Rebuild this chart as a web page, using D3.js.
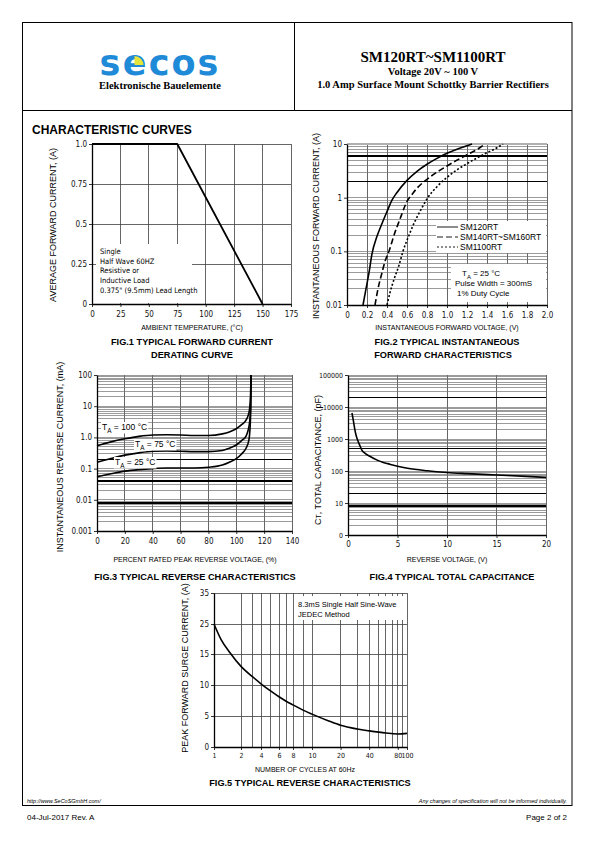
<!DOCTYPE html>
<html><head><meta charset="utf-8">
<script src="https://cdn.jsdelivr.net/npm/d3@7/dist/d3.min.js"></script>
<style>html,body{margin:0;padding:0;background:#fff}svg{display:block}</style>
</head><body>
<svg id="page" width="595" height="842" xmlns="http://www.w3.org/2000/svg"></svg>
<script>
// ================= DATA =================
// Fig.1 forward current derating
const fig1Temp = [0, 75, 150];
const fig1Current = [1.0, 1.0, 0];
const fig1XTicks = [0, 25, 50, 75, 100, 125, 150, 175];
const fig1XLabels = ["0", "25", "50", "75", "100", "125", "150", "175"];
const fig1YTicks = [0, 0.25, 0.5, 0.75, 1.0];
const fig1YLabels = ["0", "0.25", "0.5", "0.75", "1.0"];
const fig1Notes = ["Single", "Half Wave 60HZ", "Resistive or", "Inductive Load", "0.375\" (9.5mm) Lead Length"];

// Fig.2 instantaneous forward characteristics
const fig2XTicks = [0, 0.2, 0.4, 0.6, 0.8, 1.0, 1.2, 1.4, 1.6, 1.8, 2.0];
const fig2XLabels = ["0", "0.2", "0.4", "0.6", "0.8", "1.0", "1.2", "1.4", "1.6", "1.8", "2.0"];
const fig2YTicks = [0.01, 0.1, 1, 10];
const fig2YLabels = ["0.01", "0.1", "1", "10"];
const fig2Series = ["SM120RT", "SM140RT~SM160RT", "SM1100RT"];
const fig2V120 = [0.16, 0.19, 0.22, 0.25, 0.30, 0.35, 0.40, 0.45, 0.50, 0.60, 0.70, 0.80, 0.90, 1.00, 1.10, 1.20, 1.25];
const fig2I120 = [0.01, 0.02, 0.04, 0.09, 0.19, 0.33, 0.55, 0.9, 1.25, 2.1, 3.1, 4.2, 5.4, 6.7, 8.0, 9.3, 10];
const fig2V140 = [0.28, 0.31, 0.35, 0.38, 0.42, 0.47, 0.53, 0.60, 0.65, 0.70, 0.80, 0.90, 1.00, 1.10, 1.20, 1.30, 1.38];
const fig2I140 = [0.01, 0.02, 0.04, 0.065, 0.1, 0.2, 0.4, 0.85, 1.15, 1.5, 2.2, 3.0, 3.9, 5.0, 6.3, 7.9, 10];
const fig2V1100 = [0.40, 0.43, 0.47, 0.52, 0.56, 0.62, 0.69, 0.75, 0.80, 0.90, 1.00, 1.10, 1.20, 1.30, 1.40, 1.50, 1.56];
const fig2I1100 = [0.01, 0.017, 0.03, 0.055, 0.1, 0.2, 0.4, 0.65, 0.95, 1.6, 2.4, 3.3, 4.3, 5.5, 6.9, 8.5, 10];
const fig2Notes = ["Pulse Width = 300mS", "1% Duty Cycle"];

// Fig.3 reverse characteristics
const fig3XTicks = [0, 20, 40, 60, 80, 100, 120, 140];
const fig3XLabels = ["0", "20", "40", "60", "80", "100", "120", "140"];
const fig3YTicks = [0.001, 0.01, 0.1, 1, 10, 100];
const fig3YLabels = ["0.001", "0.01", "0.1", "1.0", "10", "100"];
const fig3Temps = ["100", "75", "25"];
const fig3P100 = [0, 10, 20, 30, 40, 50, 60, 70, 80, 90, 95, 100, 104, 107, 108.5, 109.5, 110.2, 110.6];
const fig3I100 = [0.54, 0.72, 0.9, 1.08, 1.2, 1.22, 1.2, 1.15, 1.15, 1.3, 1.5, 1.9, 2.6, 3.6, 5, 8, 20, 100];
const fig3P75 = [0, 10, 20, 30, 40, 50, 60, 70, 80, 90, 95, 100, 104, 107, 108.5, 109.7, 110.3, 110.6];
const fig3I75 = [0.16, 0.21, 0.27, 0.32, 0.36, 0.37, 0.36, 0.35, 0.35, 0.38, 0.45, 0.57, 0.8, 1.1, 1.7, 3.5, 10, 100];
const fig3P25 = [0, 10, 20, 30, 40, 50, 60, 70, 80, 90, 95, 100, 104, 107, 109, 110, 110.4, 110.6];
const fig3I25 = [0.055, 0.068, 0.083, 0.093, 0.1, 0.104, 0.104, 0.104, 0.11, 0.13, 0.16, 0.21, 0.3, 0.45, 0.8, 2.5, 10, 100];

// Fig.4 total capacitance
const fig4XTicks = [0, 5, 10, 15, 20];
const fig4XLabels = ["0", "5", "10", "15", "20"];
const fig4YTicks = [1, 10, 100, 1000, 10000, 100000];
const fig4YLabels = ["0", "10", "100", "1000", "10000", "100000"];
const fig4V = [0.4, 0.55, 0.7, 0.85, 1.0, 1.2, 1.4, 1.7, 2.2, 3, 3.5, 4, 5, 6, 8, 10, 12, 15, 18, 20];
const fig4C = [6500, 3600, 1900, 1200, 880, 620, 450, 360, 290, 215, 187, 170, 141, 122, 102, 90, 83, 75, 68, 63];

// Fig.5 peak forward surge current
const fig5XTicks = [1, 2, 4, 6, 8, 10, 20, 40, 80, 100];
const fig5XLabels = ["1", "2", "4", "6", "8", "10", "20", "40", "80", "100"];
const fig5YTicks = [0, 5, 10, 15, 25, 35];
const fig5YLabels = ["0", "5", "10", "15", "25", "35"];
const fig5Cycles = [1, 1.2, 1.5, 2, 3, 4, 5, 6, 7, 8, 9, 10, 15, 20, 30, 40, 60, 80, 100];
const fig5Surge = [25, 19.8, 15.5, 13.0, 11.3, 10.2, 9.0, 8.1, 7.35, 6.8, 5.95, 5.3, 4.2, 3.5, 2.9, 2.6, 2.25, 2.1, 2.2];
const fig5Notes = ["8.3mS Single Half Sine-Wave", "JEDEC Method"];

// ================= STYLE =================
const NARROW = "'Liberation Sans Narrow','Arial Narrow','DejaVu Sans Condensed',sans-serif";
const SANS = "'Liberation Sans',Arial,Helvetica,sans-serif";
const SERIF = "'Liberation Serif','Times New Roman',serif";
const GRID = "#707070", GRIDV = "#404040";
const STYLE = { fig2Emph: [2, 6], fig3Emph: [0.2, 0.04, 0.008], fig4Emph: [20000, 500, 20, 8] };
const YTITLE = 9, XTITLE = 7, FIGT = 9.2;

const svg = d3.select("#page");

function txt(g, x, y, s, o = {}) {
  const t = g.append("text").attr("x", x).attr("y", y).text(s)
    .attr("font-family", o.family || SANS).attr("font-size", o.size || 8)
    .attr("font-weight", o.weight || "normal").attr("text-anchor", o.anchor || "start")
    .attr("fill", o.fill || "#000");
  if (o.style) t.attr("font-style", o.style);
  if (o.rotate) t.attr("transform", `rotate(-90,${x},${y})`);
  return t;
}
function logSteps(lo, hi) {
  const out = [];
  for (let e = Math.round(Math.log10(lo)); e < Math.round(Math.log10(hi)); e++)
    for (let k = 1; k < 10; k++) out.push(+(k * Math.pow(10, e)).toPrecision(6));
  out.push(hi);
  return out;
}
function isEmph(v, list) { return list.some(e => Math.abs(v - e) / e < 1e-6); }
function hLines(g, y, values, x0, x1, color, width) {
  g.append("g").selectAll("line").data(values).join("line")
    .attr("x1", x0).attr("x2", x1).attr("y1", d => y(d)).attr("y2", d => y(d))
    .attr("stroke", color).attr("stroke-width", width).attr("shape-rendering", "crispEdges");
}
function vLines(g, x, values, y0, y1, color, width) {
  g.append("g").selectAll("line").data(values).join("line")
    .attr("x1", d => x(d)).attr("x2", d => x(d)).attr("y1", y0).attr("y2", y1)
    .attr("stroke", color).attr("stroke-width", width).attr("shape-rendering", "crispEdges");
}
function drawAxes(g, x, y, c) {
  const xl = x.range()[0], yb = y.range()[0];
  const xa = d3.axisBottom(x).tickValues(c.xTicks).tickFormat((d, i) => c.xLabels[i])
    .tickSize(3).tickSizeOuter(0).tickPadding(c.xPad || 3);
  const ya = d3.axisLeft(y).tickValues(c.yTicks).tickFormat((d, i) => c.yLabels[i])
    .tickSize(3).tickSizeOuter(0).tickPadding(2);
  const gx = g.append("g").attr("transform", `translate(0,${yb})`).call(xa);
  const gy = g.append("g").attr("transform", `translate(${xl},0)`).call(ya);
  [gx, gy].forEach(a => {
    a.select(".domain").attr("stroke", "#000").attr("stroke-width", 1.3);
    a.selectAll(".tick line").attr("stroke", "#000").attr("stroke-width", 0.8);
    a.selectAll("text").attr("font-family", NARROW).attr("font-size", 8).attr("fill", "#111");
  });
  if (c.xFont) gx.selectAll("text").attr("font-size", c.xFont);
  if (c.yFont) gy.selectAll("text").attr("font-size", c.yFont);
}
function curve(g, x, y, xs, ys, o = {}) {
  g.append("path").datum(d3.zip(xs, ys))
    .attr("d", d3.line().x(d => x(d[0])).y(d => y(d[1])).curve(o.curve || d3.curveMonotoneX))
    .attr("fill", "none").attr("stroke", "#000").attr("stroke-width", o.width || 1.6)
    .attr("stroke-dasharray", o.dash || null).attr("stroke-linejoin", "round");
}
function bgText(g, t, padX, padY) {
  const b = t.node().getBBox();
  g.insert("rect", () => t.node()).attr("x", b.x - padX).attr("y", b.y - padY)
    .attr("width", b.width + 2 * padX).attr("height", b.height + 2 * padY).attr("fill", "#fff");
}
function subText(g, x, y, pre, sub, post, size) {
  const t = g.append("text").attr("x", x).attr("y", y).attr("font-family", SANS).attr("font-size", size).attr("fill", "#000");
  t.append("tspan").text(pre);
  t.append("tspan").attr("dy", 2.5).attr("font-size", size * 0.75).text(sub);
  t.append("tspan").attr("dy", -2.5).text(post);
  return t;
}

// ================= PAGE FRAME / HEADER =================
svg.append("rect").attr("x", 22.5).attr("y", 22.5).attr("width", 549.5).attr("height", 783)
  .attr("fill", "none").attr("stroke", "#000").attr("stroke-width", 1);
svg.append("line").attr("x1", 294.5).attr("x2", 294.5).attr("y1", 22).attr("y2", 110).attr("stroke", "#000");
svg.append("line").attr("x1", 22).attr("x2", 572).attr("y1", 110.5).attr("y2", 110.5).attr("stroke", "#000");

// logo
const logoLetters = ["s", "e", "c", "o", "s"];
const lg = svg.append("g");
logoLetters.forEach((ch, i) => {
  lg.append("text").attr("x", 110 + i * 24.5).attr("y", 75).attr("text-anchor", "middle")
    .attr("font-family", "'DejaVu Sans',sans-serif").attr("font-weight", "bold").attr("font-size", 35)
    .attr("fill", "#1f8bd8").text(ch);
});
lg.append("path").attr("d", "M134.5,65 L134.5,56 A9,9 0 0 1 143.5,65 Z").attr("fill", "#e6e33a");
txt(svg, 160, 89, "Elektronische Bauelemente", { family: SERIF, weight: "bold", size: 10.5, anchor: "middle" });
txt(svg, 433, 62, "SM120RT~SM1100RT", { family: SERIF, weight: "bold", size: 15, anchor: "middle" });
txt(svg, 433, 75, "Voltage 20V ~ 100 V", { family: SERIF, weight: "bold", size: 10.5, anchor: "middle" });
txt(svg, 433, 88, "1.0 Amp Surface Mount Schottky Barrier Rectifiers", { family: SERIF, weight: "bold", size: 10.5, anchor: "middle" });

txt(svg, 32, 134, "CHARACTERISTIC CURVES", { weight: "bold", size: 12 });

// ================= FIG.1 =================
{
  const g = svg.append("g");
  const x = d3.scaleLinear().domain([0, 175]).range([92, 291]);
  const y = d3.scaleLinear().domain([0, 1]).range([304, 144]);
  vLines(g, x, fig1XTicks.slice(1), 144, 304, GRIDV, 0.8);
  hLines(g, y, fig1YTicks.slice(1), 92, 291, GRIDV, 0.8);
  g.append("rect").attr("x", 96).attr("y", 244).attr("width", 96).attr("height", 59).attr("fill", "#fff");
  fig1Notes.forEach((s, i) => txt(g, 100, 254 + i * 9.7, s, { family: NARROW, size: 7.5 }));
  drawAxes(g, x, y, { xTicks: fig1XTicks, xLabels: fig1XLabels, yTicks: fig1YTicks, yLabels: fig1YLabels, xPad: 4 });
  curve(g, x, y, fig1Temp, fig1Current, { curve: d3.curveLinear, width: 1.8 });
  txt(g, 192, 330, "AMBIENT TEMPERATURE, (°C)", { size: XTITLE, anchor: "middle" });
  txt(g, 192, 345, "FIG.1 TYPICAL FORWARD CURRENT", { weight: "bold", size: FIGT, anchor: "middle" });
  txt(g, 192, 358, "DERATING CURVE", { weight: "bold", size: FIGT, anchor: "middle" });
  txt(g, 56, 225, "AVERAGE FORWARD CURRENT, (A)", { size: YTITLE, anchor: "middle", rotate: true });
}

// ================= FIG.2 =================
{
  const g = svg.append("g");
  const x = d3.scaleLinear().domain([0, 2]).range([347, 547]);
  const y = d3.scaleLog().domain([0.01, 10]).range([305, 144]);
  vLines(g, x, fig2XTicks.slice(1), 144, 305, GRIDV, 0.8);
  const hv = logSteps(0.01, 10).slice(1, -1);
  hLines(g, y, hv.filter(v => !isEmph(v, STYLE.fig2Emph)), 347, 547, GRID, 0.7);
  hLines(g, y, STYLE.fig2Emph, 347, 547, "#000", 1.4);
  hLines(g, y, [10], 347, 547, "#b0b0b0", 2);
  // legend
  g.append("rect").attr("x", 436).attr("y", 221).attr("width", 110).attr("height", 32).attr("fill", "#fff");
  const dashes = [null, "6,3", "2,2"];
  fig2Series.forEach((s, i) => {
    const yy = 227 + i * 10;
    g.append("line").attr("x1", 437).attr("x2", 458).attr("y1", yy).attr("y2", yy)
      .attr("stroke", "#000").attr("stroke-width", 0.9).attr("stroke-dasharray", dashes[i]);
    txt(g, 460, yy + 3, s, { size: 8.5 });
  });
  // note box
  g.append("rect").attr("x", 451).attr("y", 264).attr("width", 95).attr("height", 38).attr("fill", "#fff");
  subText(g, 462, 276, "T", "A", " = 25 °C", 8);
  txt(g, 455, 286, fig2Notes[0], { size: 8 });
  txt(g, 457, 296, fig2Notes[1], { size: 8 });
  drawAxes(g, x, y, { xTicks: fig2XTicks, xLabels: fig2XLabels, yTicks: fig2YTicks, yLabels: fig2YLabels, xPad: 4 });
  curve(g, x, y, fig2V120, fig2I120, { width: 1.6 });
  curve(g, x, y, fig2V140, fig2I140, { width: 1.6, dash: "6,3" });
  curve(g, x, y, fig2V1100, fig2I1100, { width: 1.6, dash: "2,2" });
  txt(g, 447, 330, "INSTANTANEOUS FORWARD VOLTAGE, (V)", { size: XTITLE, anchor: "middle" });
  txt(g, 447, 345, "FIG.2 TYPICAL INSTANTANEOUS", { weight: "bold", size: FIGT, anchor: "middle" });
  txt(g, 443, 358, "FORWARD CHARACTERISTICS", { weight: "bold", size: FIGT, anchor: "middle" });
  txt(g, 319, 226, "INSTANTANEOUS FORWARD CURRENT, (A)", { size: YTITLE, anchor: "middle", rotate: true });
}

// ================= FIG.3 =================
{
  const g = svg.append("g");
  const x = d3.scaleLinear().domain([0, 140]).range([97, 292]);
  const y = d3.scaleLog().domain([0.001, 100]).range([531, 375]);
  vLines(g, x, fig3XTicks.slice(1), 375, 531, GRIDV, 0.8);
  const hv = logSteps(0.001, 100).slice(1);
  hLines(g, y, hv.filter(v => !isEmph(v, STYLE.fig3Emph)), 97, 292, GRID, 0.7);
  hLines(g, y, STYLE.fig3Emph, 97, 292, "#000", 1.4);
  drawAxes(g, x, y, { xTicks: fig3XTicks, xLabels: fig3XLabels, yTicks: fig3YTicks, yLabels: fig3YLabels, xPad: 4 });
  curve(g, x, y, fig3P100, fig3I100, { width: 1.6 });
  curve(g, x, y, fig3P75, fig3I75, { width: 1.6 });
  curve(g, x, y, fig3P25, fig3I25, { width: 1.6 });
  const lp = [[102, 430], [135, 447], [115, 465]];
  fig3Temps.forEach((tmp, i) => {
    const t = subText(g, lp[i][0], lp[i][1], "T", "A", " = " + tmp + " °C", 8.5);
    bgText(g, t, 1, 0);
  });
  txt(g, 195, 562, "PERCENT RATED PEAK REVERSE VOLTAGE, (%)", { size: XTITLE, anchor: "middle" });
  txt(g, 195, 580, "FIG.3 TYPICAL REVERSE CHARACTERISTICS", { weight: "bold", size: FIGT, anchor: "middle" });
  txt(g, 63, 457, "INSTANTANEOUS REVERSE CURRENT, (mA)", { size: YTITLE, anchor: "middle", rotate: true });
}

// ================= FIG.4 =================
{
  const g = svg.append("g");
  const x = d3.scaleLinear().domain([0, 20]).range([348, 546]);
  const y = d3.scaleLog().domain([1, 100000]).range([535, 375]);
  vLines(g, x, fig4XTicks.slice(1), 375, 535, GRIDV, 0.8);
  const hv = logSteps(1, 100000).slice(1);
  hLines(g, y, hv.filter(v => !isEmph(v, STYLE.fig4Emph)), 348, 546, GRID, 0.7);
  hLines(g, y, STYLE.fig4Emph, 348, 546, "#000", 1.4);
  drawAxes(g, x, y, { xTicks: fig4XTicks, xLabels: fig4XLabels, yTicks: fig4YTicks, yLabels: fig4YLabels, xPad: 3, yFont: 7 });
  curve(g, x, y, fig4V, fig4C, { width: 1.6 });
  txt(g, 447, 562, "REVERSE VOLTAGE, (V)", { size: XTITLE, anchor: "middle" });
  txt(g, 452, 580, "FIG.4 TYPICAL TOTAL CAPACITANCE", { weight: "bold", size: FIGT, anchor: "middle" });
  const t = g.append("text").attr("transform", "translate(321,460) rotate(-90)").attr("text-anchor", "middle")
    .attr("font-family", SANS).attr("font-size", YTITLE).attr("fill", "#000");
  t.append("tspan").text("C");
  t.append("tspan").attr("font-size", 7).text("T");
  t.append("tspan").text(", TOTAL CAPACITANCE, (pF)");
}

// ================= FIG.5 =================
{
  const g = svg.append("g");
  const x = d3.scaleLog().domain([1, 2, 4, 6, 8, 10, 100]).range([214, 241, 261, 279, 293, 312, 407]);
  const y = d3.scaleLinear().domain(fig5YTicks).range([747, 716, 685, 654, 624, 593]);
  const vv = logSteps(1, 100).slice(1);
  vLines(g, x, vv, 593, 747, GRIDV, 0.8);
  hLines(g, y, fig5YTicks.slice(1), 214, 407, GRIDV, 0.8);
  g.append("rect").attr("x", 294).attr("y", 596).attr("width", 110).attr("height", 24).attr("fill", "#fff");
  fig5Notes.forEach((s, i) => txt(g, 298, 607 + i * 9.5, s, { size: 7.5 }));
  drawAxes(g, x, y, { xTicks: fig5XTicks, xLabels: fig5XLabels, yTicks: fig5YTicks, yLabels: fig5YLabels, xPad: 3, xFont: 7 });
  curve(g, x, y, fig5Cycles, fig5Surge, { width: 1.6 });
  txt(g, 305, 772, "NUMBER OF CYCLES AT 60Hz", { size: XTITLE, anchor: "middle" });
  txt(g, 310, 786, "FIG.5 TYPICAL REVERSE CHARACTERISTICS", { weight: "bold", size: FIGT, anchor: "middle" });
  txt(g, 188, 668, "PEAK  FORWARD SURGE CURRENT, (A)", { size: YTITLE, anchor: "middle", rotate: true });
}

// ================= FOOTER =================
txt(svg, 27, 803, "http://www.SeCoSGmbH.com/", { size: 5.5, style: "italic" });
txt(svg, 567, 803, "Any changes of specification will not be informed individually.", { size: 5.5, style: "italic", anchor: "end" });
txt(svg, 27, 820, "04-Jul-2017 Rev. A", { size: 8 });
txt(svg, 567, 820, "Page 2 of 2", { size: 8, anchor: "end" });
</script>
</body></html>
